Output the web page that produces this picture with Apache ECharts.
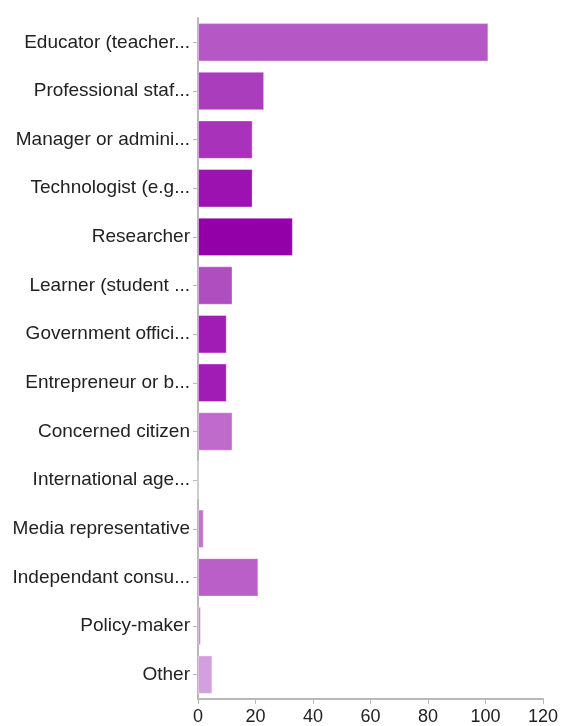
<!DOCTYPE html>
<html><head><meta charset="utf-8">
<script src="https://cdn.jsdelivr.net/npm/echarts@6/dist/echarts.min.js"></script>
<style>html,body{margin:0;padding:0;background:#fff}#c{width:561px;height:726px}</style>
</head><body><div id="c"></div>
<script>
const categories = ["Educator (teacher...","Professional staf...","Manager or admini...","Technologist (e.g...","Researcher","Learner (student ...","Government offici...","Entrepreneur or b...","Concerned citizen","International age...","Media representative","Independant consu...","Policy-maker","Other"];
const values = [101, 23, 19, 19, 33, 12, 10, 10, 12, 0, 2, 21, 1, 5];
const barColors = ["#b657c6","#aa3dbb","#a832b9","#9c12b0","#9400a7","#ae4ebf","#a01cb4","#a01cb4","#bf6bcc","#c070ce","#c274cf","#ba5fc8","#c884d4","#d39fde"];
const xTicks = [0, 20, 40, 60, 80, 100, 120];

const chart = echarts.init(document.getElementById('c'));
chart.setOption({
  animation: false,
  grid: {left: 198, right: 15, top: 18, bottom: 27, containLabel: false},
  xAxis: {
    type: 'value', min: xTicks[0], max: xTicks[xTicks.length-1], interval: 20,
    axisLine: {show: true, lineStyle: {color: '#b8b8b8', width: 2}},
    axisTick: {show: true, length: 5, lineStyle: {color: '#b8b8b8'}},
    splitLine: {show: false},
    axisLabel: {color: '#222', fontFamily: 'Liberation Sans', fontSize: 18, margin: 9}
  },
  yAxis: {
    type: 'category', data: categories, inverse: true,
    axisLine: {show: true, lineStyle: {color: '#b8b8b8', width: 2}},
    axisTick: {show: true, alignWithLabel: true, length: 5, lineStyle: {color: '#b8b8b8'}},
    axisLabel: {color: '#222', fontFamily: 'Liberation Sans', fontSize: 19, margin: 8}
  },
  series: [{
    type: 'bar', barCategoryGap: '21%',
    data: values.map((v, i) => ({value: v, itemStyle: {color: barColors[i], borderColor: 'rgba(255,255,255,0.35)', borderWidth: 1}}))
  }]
});
</script></body></html>
